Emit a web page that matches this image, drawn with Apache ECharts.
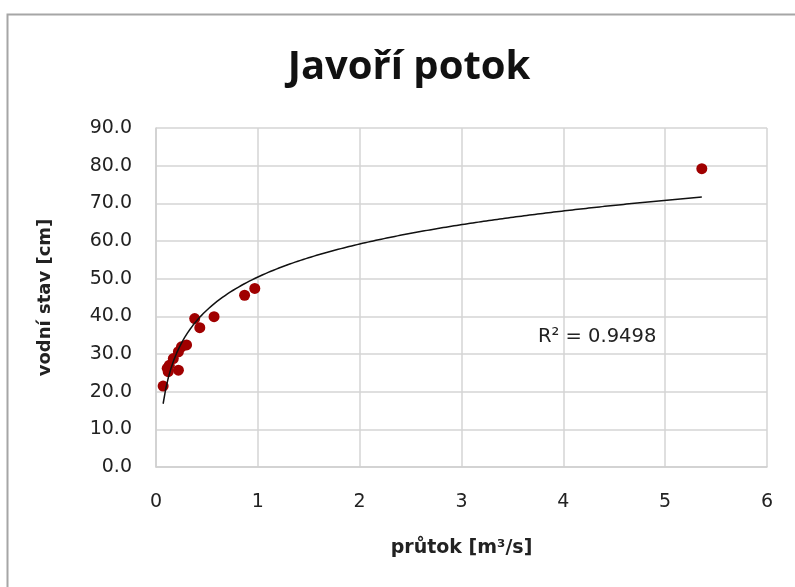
<!DOCTYPE html>
<html>
<head>
<meta charset="utf-8">
<script src="https://cdn.jsdelivr.net/npm/echarts@6/dist/echarts.min.js"></script>
<style>
  html, body { margin: 0; padding: 0; background: #fff; }
  #chart { width: 795px; height: 587px; }
</style>
</head>
<body>
<div id="chart"></div>
<script>
// průtok [m3/s] a vodní stav [cm]
const prutok = [0.07, 0.11, 0.12, 0.13, 0.17, 0.22, 0.22, 0.25, 0.30, 0.38, 0.43, 0.57, 0.87, 0.97, 5.36];
const vodniStav = [21.5, 26.2, 25.3, 27.0, 28.8, 25.7, 30.6, 31.9, 32.4, 39.4, 37.0, 39.9, 45.6, 47.4, 79.2];
const xTicks = [0, 1, 2, 3, 4, 5, 6];
const yTicks = [0, 10, 20, 30, 40, 50, 60, 70, 80, 90];
const r2Text = "R² = 0.9498";

// logaritmická spojnice trendu (jako v Excelu): y = a*ln(x) + b
function logFit(xs, ys) {
  const n = xs.length;
  const lx = xs.map(Math.log);
  const mx = lx.reduce((s, v) => s + v, 0) / n;
  const my = ys.reduce((s, v) => s + v, 0) / n;
  let sxy = 0, sxx = 0;
  for (let i = 0; i < n; i++) {
    sxy += (lx[i] - mx) * (ys[i] - my);
    sxx += (lx[i] - mx) * (lx[i] - mx);
  }
  const a = sxy / sxx;
  return { a: a, b: my - a * mx };
}
const fit = logFit(prutok, vodniStav);
const xMin = Math.min(...prutok), xMax = Math.max(...prutok);
const trend = [];
for (let i = 0; i <= 200; i++) {
  const x = xMin + (xMax - xMin) * i / 200;
  trend.push([x, fit.a * Math.log(x) + fit.b]);
}

const titleFont = "'Open Sans', 'DejaVu Sans', sans-serif";
const font = "'DejaVu Sans', sans-serif";
const chart = echarts.init(document.getElementById("chart"));

chart.setOption({
  animation: false,
  textStyle: { fontFamily: font },
  title: {
    text: "Javoří potok",
    left: 404,
    top: 43,
    textAlign: "center",
    textStyle: { fontSize: 40, fontWeight: "bold", color: "#111", fontFamily: titleFont }
  },
  graphic: [
    {
      type: "rect",
      shape: { x: 7.5, y: 14.5, width: 800, height: 600 },
      style: { fill: "none", stroke: "#a6a6a6", lineWidth: 2 },
      silent: true
    },
    {
      type: "text",
      left: 538,
      top: 327,
      style: { text: r2Text, fontSize: 19.5, fill: "#222", fontFamily: font }
    }
  ],
  grid: { left: 156, right: 28, top: 128, bottom: 120 },
  xAxis: {
    type: "value",
    min: xTicks[0],
    max: xTicks[xTicks.length - 1],
    interval: 1,
    name: "průtok [m³/s]",
    nameLocation: "middle",
    nameGap: 72,
    nameTextStyle: { fontSize: 19, fontWeight: "bold", color: "#222" },
    axisLine: { show: true, lineStyle: { color: "#cfcfcf", width: 1.5 } },
    axisTick: { show: false },
    axisLabel: { fontSize: 19, color: "#222", margin: 26 },
    splitLine: { show: true, lineStyle: { color: "#d4d4d4", width: 1.5 } }
  },
  yAxis: {
    type: "value",
    min: yTicks[0],
    max: yTicks[yTicks.length - 1],
    interval: 10,
    name: "vodní stav [cm]",
    nameLocation: "middle",
    nameGap: 102,
    nameRotate: 90,
    nameTextStyle: { fontSize: 18, fontWeight: "bold", color: "#222" },
    axisLine: { show: true, lineStyle: { color: "#cfcfcf", width: 1.5 } },
    axisTick: { show: false },
    axisLabel: { fontSize: 19, color: "#222", margin: 24, formatter: v => v.toFixed(1) },
    splitLine: { show: true, lineStyle: { color: "#d4d4d4", width: 1.5 } }
  },
  series: [
    {
      name: "trend",
      type: "line",
      data: trend,
      symbol: "none",
      smooth: false,
      lineStyle: { color: "#111", width: 1.5 },
      z: 3
    },
    {
      name: "měření",
      type: "scatter",
      data: prutok.map((x, i) => [x, vodniStav[i]]),
      symbol: "circle",
      symbolSize: 11,
      itemStyle: { color: "#a00000", opacity: 1 },
      z: 2
    }
  ]
});
</script>
</body>
</html>
